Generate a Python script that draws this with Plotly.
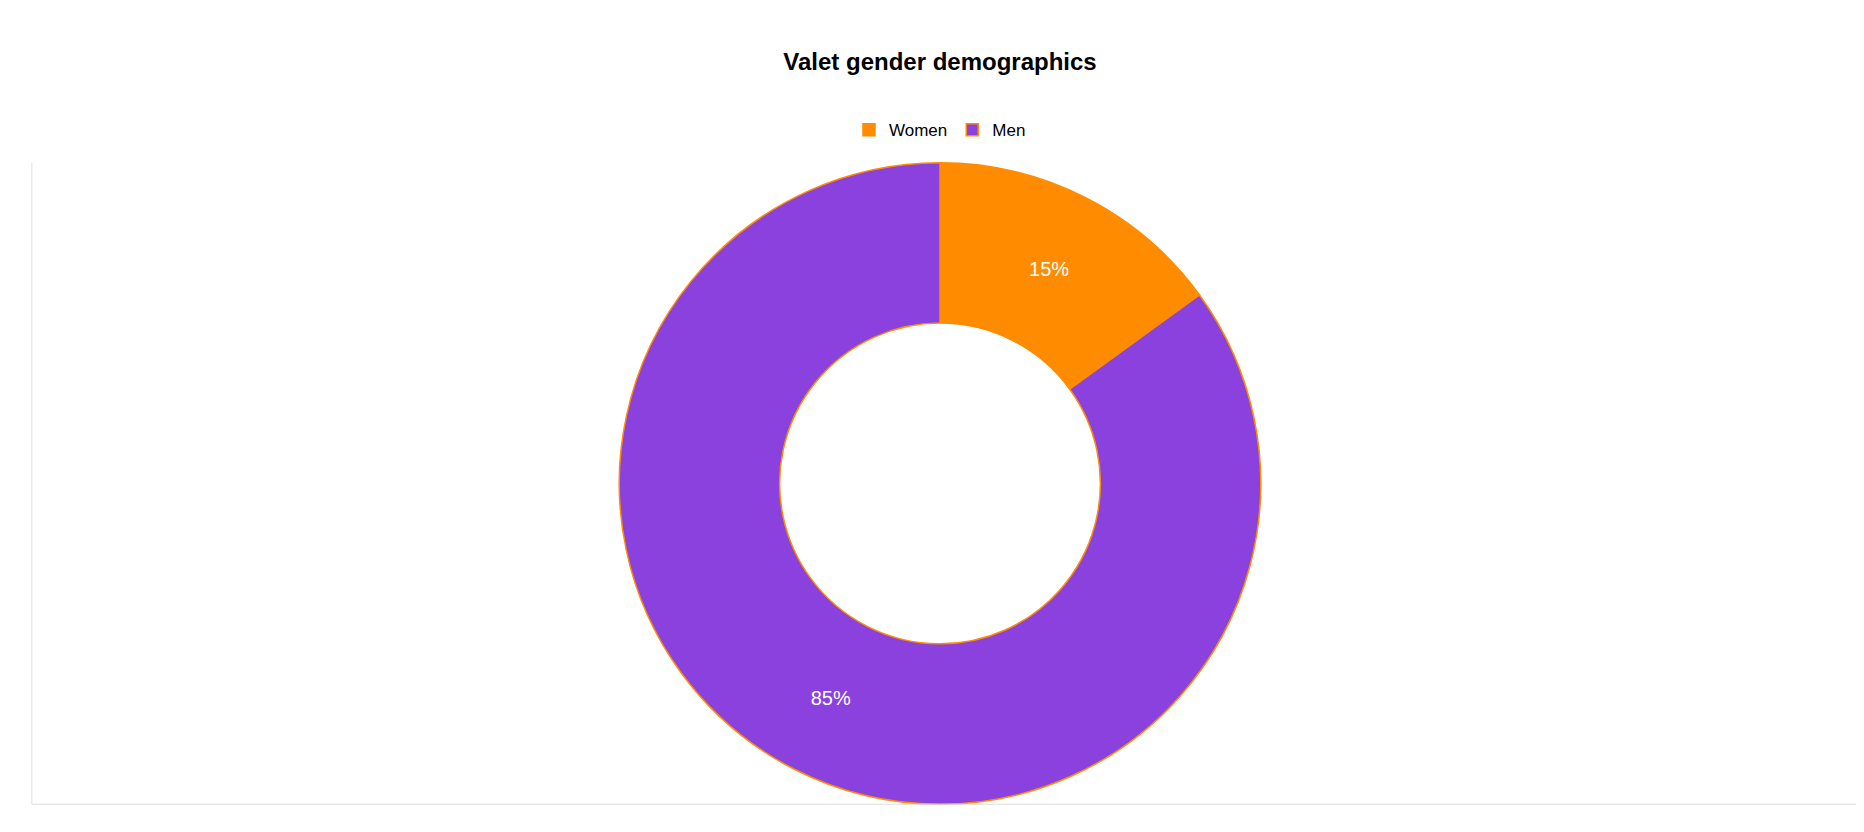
import plotly.graph_objects as go

labels = ["Women", "Men"]
values = [15, 85]
colors = ["#ff8c00", "#8a41dd"]

fig = go.Figure(go.Pie(labels=labels,
                       values=values,
                       hole=0.5,
                       sort=False,
                       direction="clockwise",
                       rotation=0,
                       marker=dict(colors=colors, line=dict(color="#ff8c00", width=1.5)),
                       textinfo="percent",
                       texttemplate="%{percent:.0%}",
                       textposition="inside",
                       insidetextorientation="horizontal",
                       textfont=dict(color="white", size=20, family="Liberation Sans, Arial"),
                       hoverinfo="label+percent",
                       domain=dict(x=[0, 1], y=[0.043, 0.814])))

# light axis lines on left and bottom
fig.add_shape(type="line", xref="paper", yref="paper", x0=0.0128, x1=0.0128, y0=0.043, y1=0.814,
              line=dict(color="#dddddd", width=1))
fig.add_shape(type="line", xref="paper", yref="paper", x0=0.0128, x1=1, y0=0.043, y1=0.043,
              line=dict(color="#dddddd", width=1))

fig.update_layout(title=dict(text="<b>Valet gender demographics</b>", x=0.5, y=0.936,
                             xanchor="center", yanchor="middle",
                             font=dict(size=24, color="black", family="Liberation Sans, Arial")),
                  legend=dict(orientation="h", x=0.5, y=0.853, xanchor="center", yanchor="middle",
                              font=dict(size=17, color="black", family="Liberation Sans, Arial")),
                  margin=dict(l=0, r=0, t=0, b=0),
                  paper_bgcolor="white",
                  plot_bgcolor="white",
                  width=1864, height=832)

fig.write_html("out.html")
